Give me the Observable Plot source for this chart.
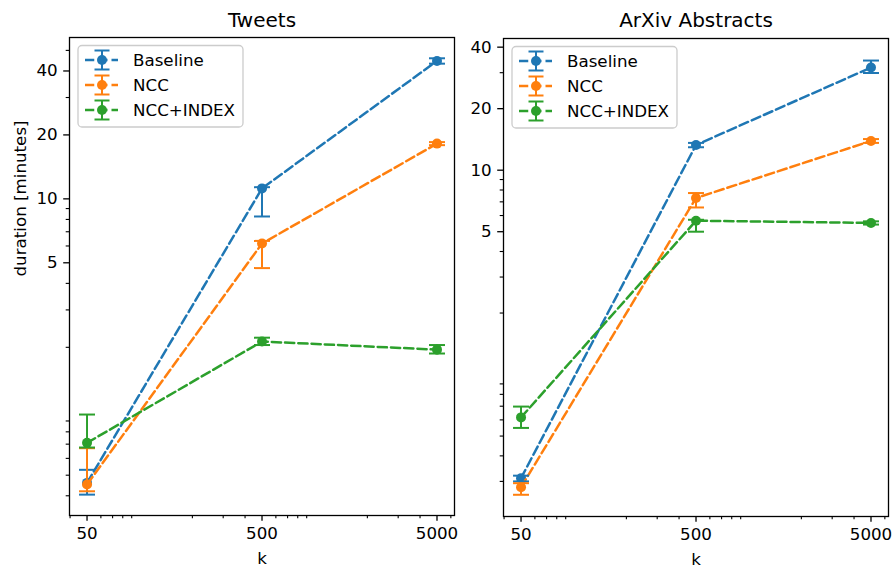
<!DOCTYPE html>
<html>
<head>
<meta charset="utf-8">
<script src="https://cdn.jsdelivr.net/npm/d3@7"></script>
<script src="https://cdn.jsdelivr.net/npm/@observablehq/plot@0.6"></script>
<style>
  html, body { margin: 0; padding: 0; background: white; }
  #wrap { display: flex; width: 893px; height: 568px; }
  svg { overflow: visible; }
</style>
</head>
<body>
<div id="wrap"></div>
<script>
// ---------------- data ----------------
const kValues = [50, 500, 5000];
const seriesNames = ["Baseline", "NCC", "NCC+INDEX"];
const seriesColors = ["#1f77b4", "#ff7f0e", "#2ca02c"];

const xTicks = [50, 500, 5000];
const xMinorTicks = [40, 60, 70, 80, 90, 200, 300, 400, 600, 700, 800, 900, 2000, 3000, 4000, 6000];
const yTicks = [5, 10, 20, 40];

// Tweets panel (minutes)
const tweetsMean = { "Baseline": [0.46, 11.2, 44.6], "NCC": [0.452, 6.16, 18.2], "NCC+INDEX": [0.71, 2.13, 1.95] };
const tweetsLow  = { "Baseline": [0.405, 8.26, 43.3], "NCC": [0.42, 4.72, 17.9], "NCC+INDEX": [0.675, 2.05, 1.87] };
const tweetsHigh = { "Baseline": [0.53, 11.35, 45.9], "NCC": [0.67, 6.34, 18.5], "NCC+INDEX": [0.965, 2.22, 2.05] };
const tweetsYMinor = [0.4, 0.5, 0.6, 0.7, 0.8, 0.9, 2, 3, 4, 6, 7, 8, 9, 30, 50];

// ArXiv Abstracts panel (minutes)
const arxivMean = { "Baseline": [0.311, 13.28, 31.8], "NCC": [0.281, 7.31, 13.9], "NCC+INDEX": [0.617, 5.66, 5.52] };
const arxivLow  = { "Baseline": [0.30, 12.95, 29.9], "NCC": [0.258, 6.57, 13.6], "NCC+INDEX": [0.548, 5.0, 5.42] };
const arxivHigh = { "Baseline": [0.32, 13.6, 34.4], "NCC": [0.294, 7.73, 14.2], "NCC+INDEX": [0.697, 5.72, 5.62] };
const arxivYMinor = [0.3, 0.4, 0.5, 0.6, 0.7, 0.8, 0.9, 2, 3, 4, 6, 7, 8, 9, 30];

function buildRows(mean, low, high) {
  const rows = [];
  for (const s of seriesNames) {
    kValues.forEach((k, i) => rows.push({ series: s, k, mean: mean[s][i], lo: low[s][i], hi: high[s][i] }));
  }
  return rows;
}

const capSymbol = { draw(ctx) { ctx.moveTo(-8, 0); ctx.lineTo(8, 0); } };
const FONT = "DejaVu Sans, sans-serif";

function panel(opts) {
  const { title, rows, yDomain, yMinor, width, marginLeft, marginRight, marginTop, marginBottom, yLabel } = opts;
  const marks = [];
  for (const s of seriesNames) {
    const d = rows.filter(r => r.series === s);
    marks.push(Plot.line(d, { x: "k", y: "mean", stroke: "series", strokeWidth: 2.5, strokeDasharray: "9.25,4" }));
    marks.push(Plot.dot(d, { x: "k", y: "mean", fill: "series", r: 5 }));
  }
  for (const s of seriesNames) {
    const d = rows.filter(r => r.series === s);
    marks.push(Plot.ruleX(d, { x: "k", y1: "lo", y2: "hi", stroke: "series", strokeWidth: 2 }));
    marks.push(Plot.dot(d, { x: "k", y: "lo", symbol: capSymbol, stroke: "series", strokeWidth: 2, fill: "none" }));
    marks.push(Plot.dot(d, { x: "k", y: "hi", symbol: capSymbol, stroke: "series", strokeWidth: 2, fill: "none" }));
  }
  marks.push(Plot.frame({ stroke: "black", strokeWidth: 1.3 }));
  marks.push(Plot.axisX({ ticks: xTicks, tickFormat: () => "", tickSize: 5.8, strokeWidth: 1.3, label: null }));
  marks.push(Plot.axisX({ ticks: xMinorTicks, tickFormat: () => "", tickSize: 3.3, strokeWidth: 1.1, label: null }));
  marks.push(Plot.text(xTicks, { x: d => d, text: d => `${d}`, frameAnchor: "bottom", dy: 11.8, lineAnchor: "top", fontSize: 16.7, fill: "black" }));
  marks.push(Plot.axisY({ ticks: yTicks, tickFormat: d => `${d}`, tickSize: 5.8, tickPadding: 6, strokeWidth: 1.3, fontSize: 16.7, label: null }));
  marks.push(Plot.axisY({ ticks: yMinor, tickFormat: () => "", tickSize: 3.3, strokeWidth: 1.1, label: null }));
  marks.push(Plot.text([title], { text: d => d, frameAnchor: "top", dy: -(marginTop - 26.7), lineAnchor: "bottom", fontSize: 20, fill: "black" }));
  marks.push(Plot.text(["k"], { text: d => d, frameAnchor: "bottom", dy: 48, lineAnchor: "bottom", fontSize: 16.7, fill: "black" }));
  if (yLabel) {
    marks.push(Plot.text([yLabel], { text: d => d, frameAnchor: "left", dx: -(marginLeft - 20), rotate: -90, fontSize: 16.7, fill: "black" }));
  }
  const svg = Plot.plot({
    width, height: 568, marginLeft, marginRight, marginTop, marginBottom,
    x: { type: "log", domain: [39.7, 6295], label: null },
    y: { type: "log", domain: yDomain, label: null },
    color: { domain: seriesNames, range: seriesColors },
    style: { fontFamily: FONT, fontSize: "16.7px", color: "black", background: "white", overflow: "visible" },
    marks
  });

  // legend (inside the frame, upper left)
  const g = d3.select(svg).append("g").attr("font-family", FONT).attr("font-size", 16.7).attr("text-anchor", "start");
  const lx = marginLeft + 9, ly = marginTop + 8.5;
  g.append("rect").attr("x", lx).attr("y", ly).attr("width", 165).attr("height", 81.5)
    .attr("rx", 4).attr("fill", "white").attr("fill-opacity", 0.8).attr("stroke", "#cccccc").attr("stroke-width", 1.3);
  seriesNames.forEach((s, i) => {
    const cy = ly + 14.5 + i * 25;
    const c = seriesColors[i];
    const hx0 = lx + 7, hx1 = lx + 40, hm = lx + 24;
    g.append("line").attr("x1", hx0).attr("x2", hx1).attr("y1", cy).attr("y2", cy)
      .attr("stroke", c).attr("stroke-width", 2.5).attr("stroke-dasharray", "9.25,4");
    g.append("line").attr("x1", hm).attr("x2", hm).attr("y1", cy - 9.5).attr("y2", cy + 9.5).attr("stroke", c).attr("stroke-width", 2);
    g.append("line").attr("x1", hm - 7.5).attr("x2", hm + 7.5).attr("y1", cy - 9.5).attr("y2", cy - 9.5).attr("stroke", c).attr("stroke-width", 2);
    g.append("line").attr("x1", hm - 7.5).attr("x2", hm + 7.5).attr("y1", cy + 9.5).attr("y2", cy + 9.5).attr("stroke", c).attr("stroke-width", 2);
    g.append("circle").attr("cx", hm).attr("cy", cy).attr("r", 5).attr("fill", c);
    g.append("text").attr("x", lx + 55).attr("y", cy).attr("dy", "0.36em").attr("text-anchor", "start").attr("fill", "black").text(s);
  });
  return svg;
}

const wrap = document.getElementById("wrap");
wrap.appendChild(panel({
  title: "Tweets", rows: buildRows(tweetsMean, tweetsLow, tweetsHigh),
  yDomain: [0.323, 57.5], yMinor: tweetsYMinor,
  width: 470, marginLeft: 69, marginRight: 16, marginTop: 37, marginBottom: 53,
  yLabel: "duration [minutes]"
}));
wrap.appendChild(panel({
  title: "ArXiv Abstracts", rows: buildRows(arxivMean, arxivLow, arxivHigh),
  yDomain: [0.202, 44.1], yMinor: arxivYMinor,
  width: 423, marginLeft: 33, marginRight: 5, marginTop: 38, marginBottom: 52,
  yLabel: null
}));
</script>
</body>
</html>
